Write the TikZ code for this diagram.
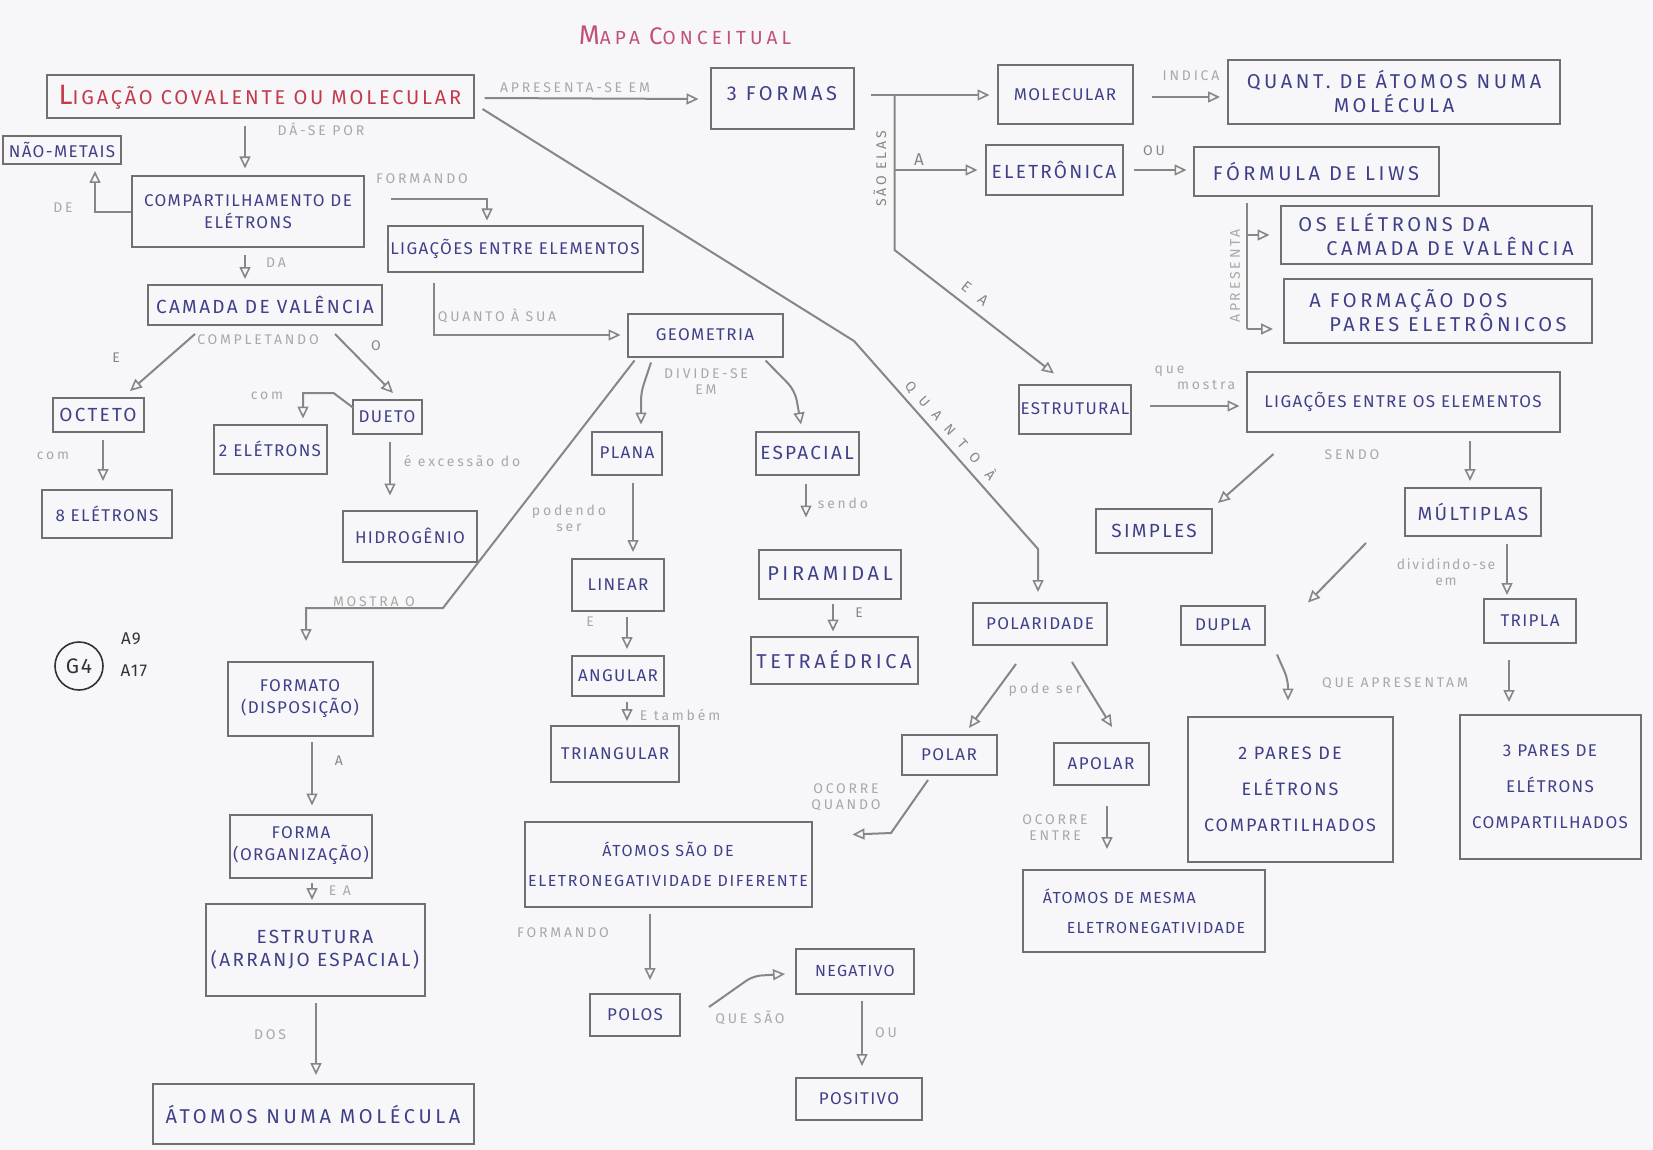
\documentclass[tikz,border=0pt]{standalone}
\usepackage{fontspec}
\setmainfont{Fira Sans}[LetterSpace=8]
\usetikzlibrary{arrows.meta,calc}
\definecolor{paper}{HTML}{F7F7F9}
\definecolor{pencil}{HTML}{707070}
\definecolor{wire}{HTML}{868686}
\definecolor{ink}{HTML}{40408A}
\definecolor{redink}{HTML}{C23A4C}
\definecolor{pinkink}{HTML}{C2507A}
\definecolor{faint}{HTML}{A8A8A8}
\definecolor{pen}{HTML}{333333}
\begin{document}
\begin{tikzpicture}[x=1pt,y=-1pt,
  box/.style={draw=pencil, line width=2pt, text=ink, font=\fontsize{17}{22}\selectfont, align=center, inner sep=2pt},
  big/.style={font=\fontsize{20}{24}\selectfont\addfontfeatures{LetterSpace=18}},
  mid/.style={font=\fontsize{19}{23}\selectfont\addfontfeatures{LetterSpace=12}},
  wh/.style 2 args={minimum width=#1pt, minimum height=#2pt},
  conn/.style={draw=wire, line width=2pt},
  arr/.style={conn, -{Triangle[open, length=12pt, width=11pt, line width=1.6pt]}},
  lab/.style={text=faint, font=\fontsize{14}{16}\selectfont\addfontfeatures{LetterSpace=20}, align=center, inner sep=1pt},
  dlab/.style={lab, text=wire}]

\fill[paper] (0,0) rectangle (1653,1150);
\useasboundingbox (0,0) rectangle (1653,1150);

% title and group mark
\node[text=pinkink, font=\fontsize{19}{19}\selectfont\addfontfeatures{LetterSpace=22}] (title) at (685,35) {{\fontsize{27}{27}\selectfont M}APA {\fontsize{24}{24}\selectfont C}ONCEITUAL};
\node[circle, draw=pen, line width=1.6pt, minimum size=48pt, inner sep=0pt, text=pen, font=\fontsize{21}{21}\selectfont] (g4) at (79,666) {G4};
\node[text=pen, font=\fontsize{17}{17}\selectfont] (a9) at (131,639) {A9};
\node[text=pen, font=\fontsize{17}{17}\selectfont] (a17) at (134,671) {A17};

% concepts
\node[box, wh={427}{43}, text=redink, font=\fontsize{20}{24}\selectfont\addfontfeatures{LetterSpace=14}] (lig) at (260,97) {{\fontsize{28}{28}\selectfont L}IGAÇÃO COVALENTE OU MOLECULAR};
\node[box, big, wh={143}{61}] (formas) at (782,99) {\raisebox{12pt}{3 FORMAS}};
\node[box, wh={135}{59}] (molec) at (1065,95) {MOLECULAR};
\node[box, big, wh={332}{64}] (quant) at (1394,92) {QUANT. DE ÁTOMOS NUMA\\MOLÉCULA};
\node[box, mid, wh={137}{50}] (eletr) at (1054,170) {ELETRÔNICA};
\node[box, big, wh={245}{49}] (formula) at (1316,172) {FÓRMULA DE LIWS};
\node[box, big, wh={311}{58}, align=left] (oseletr) at (1436,235) {OS ELÉTRONS DA\\\hspace*{1.4em}CAMADA DE VALÊNCIA};
\node[box, big, wh={308}{64}, align=left] (aform) at (1438,311) {A FORMAÇÃO DOS\\\hspace*{1em}PARES ELETRÔNICOS};
\node[box, wh={112}{49}] (estrutural) at (1075,409) {ESTRUTURAL};
\node[box, wh={313}{60}] (ligos) at (1403,402) {LIGAÇÕES ENTRE OS ELEMENTOS};
\node[box, wh={118}{28}] (naomet) at (62,150) {NÃO-METAIS};
\node[box, wh={232}{71}] (compart) at (248,212) {COMPARTILHAMENTO DE\\ELÉTRONS};
\node[box, wh={255}{45}] (ligent) at (515,249) {LIGAÇÕES ENTRE ELEMENTOS};
\node[box, mid, wh={234}{40}] (camada) at (265,305) {CAMADA DE VALÊNCIA};
\node[box, wh={155}{43}] (geom) at (705,335) {GEOMETRIA};
\node[box, mid, wh={91}{34}] (octeto) at (98,415) {OCTETO};
\node[box, wh={113}{49}] (dois) at (270,449) {2 ELÉTRONS};
\node[box, wh={69}{34}] (dueto) at (387,417) {DUETO};
\node[box, wh={130}{48}] (oito) at (107,514) {8 ELÉTRONS};
\node[box, wh={134}{51}] (hidro) at (410,536) {HIDROGÊNIO};
\node[box, wh={70}{43}] (plana) at (627,453) {PLANA};
\node[box, mid, wh={103}{43}] (espacial) at (807,453) {ESPACIAL};
\node[box, wh={92}{52}] (linear) at (618,585) {LINEAR};
\node[box, big, wh={142}{49}] (piram) at (830,574) {PIRAMIDAL};
\node[box, wh={92}{40}] (angular) at (618,676) {ANGULAR};
\node[box, big, wh={167}{47}] (tetra) at (834,660) {TETRAÉDRICA};
\node[box, wh={128}{56}] (triang) at (615,754) {TRIANGULAR};
\node[box, wh={145}{74}] (formato) at (300,699) {FORMATO\\(DISPOSIÇÃO)};
\node[box, wh={142}{63}] (forma) at (301,846) {FORMA\\(ORGANIZAÇÃO)};
\node[box, mid, wh={219}{92}] (estrut) at (315,950) {ESTRUTURA\\(ARRANJO ESPACIAL)};
\node[box, big, wh={321}{60}] (atnum) at (313,1114) {ÁTOMOS NUMA MOLÉCULA};
\node[box, wh={134}{42}] (polarid) at (1040,624) {POLARIDADE};
\node[box, wh={84}{39}] (dupla) at (1223,625) {DUPLA};
\node[box, wh={92}{44}] (tripla) at (1530,621) {TRIPLA};
\node[box, mid, wh={116}{44}] (simples) at (1154,531) {SIMPLES};
\node[box, mid, wh={136}{48}] (multi) at (1473,512) {MÚLTIPLAS};
\node[box, wh={95}{40}] (polar) at (949,755) {POLAR};
\node[box, wh={95}{42}] (apolar) at (1101,764) {APOLAR};
\node[box, wh={205}{145}, font=\fontsize{18}{36}\selectfont\addfontfeatures{LetterSpace=11}] (doisp) at (1290,789) {2 PARES DE\\ELÉTRONS\\COMPARTILHADOS};
\node[box, wh={181}{144}, font=\fontsize{17}{36}\selectfont] (tresp) at (1550,787) {3 PARES DE\\ELÉTRONS\\COMPARTILHADOS};
\node[box, wh={287}{85}, font=\fontsize{16}{30}\selectfont\addfontfeatures{LetterSpace=10}] (atdif) at (668,864) {ÁTOMOS SÃO DE\\ELETRONEGATIVIDADE DIFERENTE};
\node[box, wh={242}{82}, font=\fontsize{16}{30}\selectfont, align=left] (atmesma) at (1144,911) {ÁTOMOS DE MESMA\\\hspace*{1.5em}ELETRONEGATIVIDADE};
\node[box, wh={90}{42}] (polos) at (635,1015) {POLOS};
\node[box, wh={118}{45}, font=\fontsize{16}{20}\selectfont] (negat) at (855,971) {NEGATIVO};
\node[box, wh={126}{42}] (posit) at (859,1099) {POSITIVO};

% links, left part
\draw[arr] ($(lig.east)+(10,1)$) -- ($(formas.west)+(-11,0)$);
\draw[arr] ($(lig.south)+(-15,7)$) -- ($(compart.north)+(-3,-7)$);
\draw[arr] (compart.west) -| ($(naomet.south)+(33,6)$);
\draw[arr] ($(compart.north east)+(26,24)$) -| ($(ligent.north)+(-28,-5)$);
\draw[arr] ($(compart.south)+(-3,7)$) -- ($(camada.north)+(-20,-5)$);
\draw[arr] ($(ligent.south)+(-81,10)$) |- ($(geom.west)+(-6,0)$);
\draw[arr] ($(camada.south)+(-70,8)$) -- ($(octeto.north)+(32,-6)$);
\draw[arr] ($(camada.south)+(70,8)$) -- ($(dueto.north)+(6,-6)$);
\draw[arr] ($(octeto.south)+(5,7)$) -- ($(oito.north)+(-4,-8)$);
\draw[arr] ($(dueto.west)+(2,-9)$) -- ++(-20,-15) -| ($(dois.north)+(33,-5)$);
\draw[arr] ($(dueto.south)+(3,7)$) -- ($(hidro.north)+(-20,-14)$);

% geometry branch
\draw[arr] ($(geom.south west)+(8,3)$) -- ($(formato.north)+(143,-53)$) -| ($(formato.north)+(6,-20)$);
\draw[arr, rounded corners=8pt] ($(geom.south)+(-54,5)$) -- ($(plana.north)+(14,-38)$) -- ($(plana.north)+(14,-6)$);
\draw[arr, rounded corners=10pt] ($(geom.south east)+(-18,3)$) -- ($(espacial.north)+(-12,-40)$) -- ($(espacial.north)+(-6,-6)$);
\draw[arr] ($(plana.south)+(6,7)$) -- ($(linear.north)+(15,-6)$);
\draw[arr] ($(espacial.south)+(-1,8)$) -- ($(piram.north)+(-24,-31)$);
\draw[arr] ($(piram.south)+(3,4)$) -- ($(tetra.north)+(-1,-4)$);
\draw[arr] ($(linear.south)+(9,5)$) -- ($(angular.north)+(9,-6)$);
\draw[arr] ($(angular.south)+(9,5)$) -- ($(triang.north)+(12,-4)$);
\draw[arr] ($(formato.south)+(12,5)$) -- ($(forma.north)+(11,-8)$);
\draw[arr] ($(forma.south)+(11,4)$) -- ($(estrut.north)+(-3,-3)$);
\draw[arr] ($(estrut.south)+(1,6)$) -- ($(atnum.north)+(3,-8)$);

% polarity branch
\draw[arr] ($(lig.east)+(8,12)$) -- ($(polarid.north)+(-186,-261)$) -- ($(polarid.north)+(-2,-53)$) -- ($(polarid.north)+(-2,-10)$);
\draw[arr] ($(polarid.south)+(-24,18)$) -- ($(polar.north)+(20,-6)$);
\draw[arr] ($(polarid.south)+(32,16)$) -- ($(apolar.north)+(11,-15)$);
\draw[arr] ($(polar.south)+(-21,4)$) -- ++(-37,53) -- ($(atdif.north east)+(40,14)$);
\draw[arr] ($(apolar.south)+(6,20)$) -- ($(atmesma.north)+(-37,-20)$);
\draw[arr] ($(atdif.south)+(-18,6)$) -- ($(polos.north)+(15,-13)$);
\draw[arr, rounded corners=8pt] ($(polos.east)+(28,-8)$) -- ++(44,-31) -- ($(negat.west)+(-10,3)$);
\draw[arr] ($(negat.south)+(7,6)$) -- ($(posit.north)+(3,-11)$);

% the three forms
\coordinate (fx) at ($(formas.east)+(40,-4)$);
\draw[arr] ($(formas.east)+(16,-4)$) -- ($(molec.west)+(-7,0)$);
\draw[arr] (fx) -- ++(0,155) -- ($(estrutural.north)+(-21,-10)$);
\draw[arr] (fx |- eletr.west) -- ($(eletr.west)+(-7,0)$);
\draw[arr] ($(molec.east)+(18,2)$) -- ($(quant.west |- molec.east)+(-7,2)$);
\draw[arr] ($(eletr.east)+(10,0)$) -- ($(formula.west |- eletr.east)+(-6,0)$);
\coordinate (ap) at ($(formula.south west)+(54,6)$);
\coordinate (apb) at ($(ap |- aform.west)+(0,18)$);
\draw[conn] (ap) -- (apb);
\draw[arr] (ap |- oseletr.west) -- ($(oseletr.west)+(-10,0)$);
\draw[arr] (apb) -- ($(aform.west |- apb)+(-10,0)$);
\draw[arr] ($(estrutural.east)+(18,-3)$) -- ($(ligos.west |- estrutural.east)+(-6,-3)$);
\draw[arr] ($(ligos.south west)+(28,21)$) -- ($(simples.north east)+(5,-5)$);
\draw[arr] ($(ligos.south)+(67,8)$) -- ($(multi.north)+(-3,-6)$);
\draw[arr] ($(multi.south west)+(-38,6)$) -- ($(dupla.north east)+(42,-2)$);
\draw[arr] ($(multi.south)+(34,7)$) -- ($(tripla.north)+(-23,-3)$);
\draw[arr, rounded corners=8pt] ($(dupla.south east)+(11,9)$) -- ($(doisp.north)+(-2,-36)$) -- ($(doisp.north)+(-2,-15)$);
\draw[arr] ($(tripla.south)+(-21,16)$) -- ($(tresp.north)+(-41,-12)$);

% link words
\node[lab] (t1) at (575,88) {APRESENTA-SE EM};
\node[lab] (t2) at (321,129) {DÁ-SE POR};
\node[lab] (t3) at (63,208) {DE};
\node[lab] (t4) at (422,179) {FORMANDO};
\node[lab] (t5) at (276,263) {DA};
\node[lab] (t6) at (497,316) {QUANTO À SUA};
\node[dlab] (t7) at (116,358) {E};
\node[lab] (t8) at (258,340) {COMPLETANDO};
\node[dlab] (t9) at (376,346) {O};
\node[lab] (t10) at (53,456) {com};
\node[lab] (t11) at (267,396) {com};
\node[lab] (t12) at (462,461) {é excessão do};
\node[lab] (t13) at (374,602) {MOSTRA O};
\node[lab] (t14) at (706,382) {DIVIDE-SE\\EM};
\node[lab] (t15) at (569,518) {podendo\\ser};
\node[lab] (t16) at (843,503) {sendo};
\node[dlab] (t17) at (859,613) {E};
\node[lab] (t18) at (590,622) {E};
\node[lab] (t19) at (680,715) {E também};
\node[dlab] (t20) at (339,761) {A};
\node[lab] (t21) at (340,891) {E A};
\node[lab] (t22) at (270,1035) {DOS};
\node[dlab, rotate=-48, font=\fontsize{14}{16}\selectfont\addfontfeatures{LetterSpace=75}] (t23) at (951,430) {QUANTO À};
\node[dlab, rotate=90] (t24) at (880,169) {SÃO ELAS};
\node[dlab, font=\fontsize{17}{17}\selectfont] (t25) at (919,160) {A};
\node[dlab, rotate=-38, font=\fontsize{15}{16}\selectfont\addfontfeatures{LetterSpace=60}] (t26) at (975,294) {E A};
\node[lab] (t27) at (1191,76) {INDICA};
\node[dlab] (t28) at (1154,151) {OU};
\node[lab, rotate=90] (t29) at (1235,276) {APRESENTA};
\node[lab, align=left] (t30) at (1195,378) {que\\\hspace*{1.6em}mostra};
\node[lab] (t31) at (1352,455) {SENDO};
\node[lab, font=\fontsize{14}{16}\selectfont\addfontfeatures{LetterSpace=12}] (t32) at (1446,572) {dividindo-se\\em};
\node[lab] (t33) at (1395,683) {QUE APRESENTAM};
\node[lab] (t34) at (1045,690) {pode ser};
\node[lab] (t35) at (846,797) {OCORRE\\QUANDO};
\node[lab] (t36) at (1055,828) {OCORRE\\ENTRE};
\node[lab] (t37) at (563,933) {FORMANDO};
\node[lab] (t38) at (750,1018) {QUE SÃO};
\node[lab] (t39) at (886,1033) {OU};
\end{tikzpicture}
\end{document}
